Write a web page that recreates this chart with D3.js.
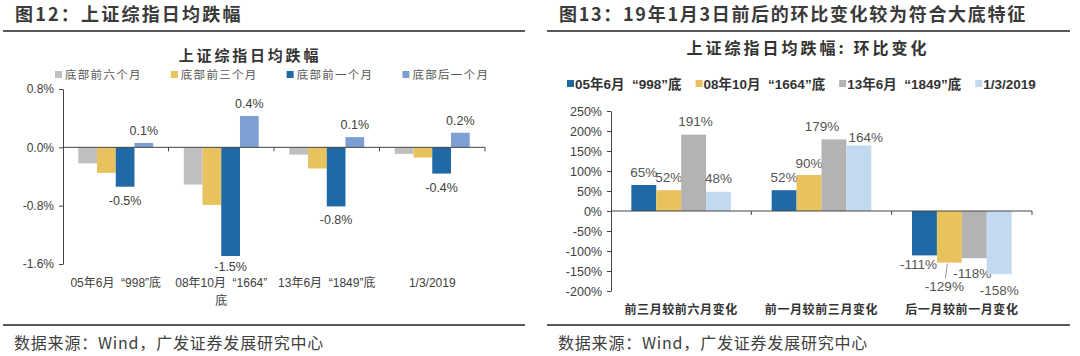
<!DOCTYPE html>
<html><head><meta charset="utf-8">
<script src="https://cdn.jsdelivr.net/npm/d3@7"></script>
<style>
html,body{margin:0;padding:0;background:#fff;}
svg{display:block;}
text{white-space:pre;}
</style></head>
<body>
<svg id="chart" width="1080" height="356"></svg>
<script>
// ---------- DATA ----------
const leftCategories = ["05年6月  “998”底", "08年10月  “1664”\n底", "13年6月  “1849”底", "1/3/2019"];
const leftSeries = ["底部前六个月", "底部前三个月", "底部前一个月", "底部后一个月"];
const leftSixMonths = [-0.22, -0.51, -0.10, -0.09];
const leftThreeMonths = [-0.35, -0.79, -0.29, -0.14];
const leftOneMonth = [-0.54, -1.49, -0.81, -0.36];
const leftAfterMonth = [0.06, 0.43, 0.14, 0.20];
const leftTicks = [0.8, 0.0, -0.8, -1.6];
const leftLabelled = ["底部前一个月", "底部后一个月"];

const rightCategories = ["前三月较前六月变化", "前一月较前三月变化", "后一月较前一月变化"];
const rightSeries = ["05年6月  “998”底", "08年10月  “1664”底", "13年6月  “1849”底", "1/3/2019"];
const right998 = [65, 52, -111];
const right1664 = [52, 90, -129];
const right1849 = [191, 179, -118];
const right2019 = [48, 164, -158];
const rightTicks = [250, 200, 150, 100, 50, 0, -50, -100, -150, -200];

// ---------- STYLE ----------
const FONT = "'Liberation Sans', Arial, 'Noto Sans CJK SC', sans-serif";
const CJK = "'Noto Sans CJK SC', 'Liberation Sans', sans-serif";
const TXT = "#404040";
const leftColors = ["#bfbfbf", "#e8c25c", "#1f69a6", "#7d9fd3"];
const rightColors = ["#1f69a6", "#e8c25c", "#b3b3b3", "#c2d9ef"];
const f1 = v => d3.format(".1f")(v).replace("\u2212", "-") + "%";
const f0 = v => d3.format("d")(v).replace("\u2212", "-") + "%";

const svg = d3.select("#chart");
svg.append("rect").attr("width", 1080).attr("height", 356).attr("fill", "#fff");

// ---------- PANEL FRAMES ----------
function panelFrame(x0, x1, tx, title, spacing) {
  svg.append("text").attr("x", tx).attr("y", 21)
    .attr("font-family", CJK).attr("font-size", 18).attr("font-weight", 700)
    .attr("fill", "#3a3a3a").attr("letter-spacing", spacing).text(title);
  svg.append("line").attr("x1", x0).attr("x2", x1).attr("y1", 31).attr("y2", 31)
    .attr("stroke", "#222").attr("stroke-width", 1.6);
  svg.append("line").attr("x1", x0).attr("x2", x1).attr("y1", 325).attr("y2", 325)
    .attr("stroke", "#222").attr("stroke-width", 1.6);
  svg.append("text").attr("x", tx - 1).attr("y", 349)
    .attr("font-family", CJK).attr("font-size", 16).attr("fill", "#404040")
    .attr("letter-spacing", 0.8)
    .text("数据来源：Wind，广发证券发展研究中心");
}
panelFrame(3, 525, 15, "图12：上证综指日均跌幅", 2.2);
panelFrame(547, 1070, 559, "图13：19年1月3日前后的环比变化较为符合大底特征", 1.7);

// ---------- LEFT CHART ----------
(function () {
  const values = [leftSixMonths, leftThreeMonths, leftOneMonth, leftAfterMonth];
  const x0 = d3.scaleBand().domain(leftCategories).range([63, 485]).paddingInner(0.29).paddingOuter(0.145);
  const x1 = d3.scaleBand().domain(leftSeries).range([0, x0.bandwidth()]);
  const y = d3.scaleLinear().domain([-1.6, 0.8]).range([264, 89]);
  const color = d3.scaleOrdinal().domain(leftSeries).range(leftColors);
  const g = svg.append("g");

  svg.append("text").attr("x", 250).attr("y", 61).attr("text-anchor", "middle")
    .attr("font-family", CJK).attr("font-size", 15).attr("font-weight", 700)
    .attr("fill", "#333").attr("letter-spacing", 2.8).text("上证综指日均跌幅");

  // legend
  let lx = 55;
  leftSeries.forEach((s, i) => {
    svg.append("rect").attr("x", lx).attr("y", 71).attr("width", 7).attr("height", 7).attr("fill", leftColors[i]);
    const t = svg.append("text").attr("x", lx + 10).attr("y", 79)
      .attr("font-family", CJK).attr("font-size", 11.5)
      .attr("letter-spacing", 1.3).attr("fill", "#555").text(s);
    lx += 10 + t.node().getComputedTextLength() + 29;
  });

  // bars
  leftCategories.forEach((c, ci) => {
    leftSeries.forEach((s, si) => {
      const v = values[si][ci];
      g.append("rect").attr("x", x0(c) + x1(s)).attr("width", x1.bandwidth())
        .attr("y", y(Math.max(0, v))).attr("height", Math.abs(y(v) - y(0)))
        .attr("fill", color(s));
      if (leftLabelled.includes(s)) {
        g.append("text").attr("x", x0(c) + x1(s) + x1.bandwidth() / 2)
          .attr("y", v >= 0 ? y(v) - 12 : y(v) + (y(v) > 250 ? 11 : 14))
          .attr("dominant-baseline", "central").attr("text-anchor", "middle")
          .attr("font-family", FONT).attr("font-size", 12.5).attr("fill", TXT)
          .text(f1(v));
      }
    });
  });

  // y axis
  const ya = g.append("g").attr("transform", "translate(63,0)")
    .call(d3.axisLeft(y).tickValues(leftTicks).tickSize(4).tickSizeOuter(0).tickFormat(f1));
  ya.select(".domain").attr("stroke", "#444");
  ya.selectAll(".tick line").attr("stroke", "#444");
  ya.selectAll("text").attr("font-family", FONT).attr("font-size", 12).attr("fill", TXT).attr("dx", "-2");

  // x axis line at zero
  g.append("line").attr("x1", 63).attr("x2", 485).attr("y1", y(0)).attr("y2", y(0)).attr("stroke", "#444");
  leftCategories.forEach(c => {
    const bx = x0(c) + x0.bandwidth() + x0.step() * x0.paddingInner() / 2;
    g.append("line").attr("x1", bx).attr("x2", bx).attr("y1", y(0)).attr("y2", y(0) + 4).attr("stroke", "#444");
  });
  // category labels
  leftCategories.forEach(c => {
    const cx = x0(c) + x0.bandwidth() / 2;
    c.split("\n").forEach((line, li) => {
      g.append("text").attr("x", cx).attr("y", 283 + li * 18).attr("dominant-baseline", "central")
        .attr("text-anchor", "middle").attr("font-family", FONT).attr("font-size", 12)
        .attr("fill", TXT).text(line);
    });
  });
})();

// ---------- RIGHT CHART ----------
(function () {
  const values = [right998, right1664, right1849, right2019];
  const x0 = d3.scaleBand().domain(rightCategories).range([611, 1032]).paddingInner(0.29).paddingOuter(0.145);
  const x1 = d3.scaleBand().domain(rightSeries).range([0, x0.bandwidth()]);
  const y = d3.scaleLinear().domain([-200, 250]).range([291, 111]);
  const color = d3.scaleOrdinal().domain(rightSeries).range(rightColors);
  const g = svg.append("g");

  svg.append("text").attr("x", 808).attr("y", 54).attr("text-anchor", "middle")
    .attr("font-family", CJK).attr("font-size", 16).attr("font-weight", 700)
    .attr("fill", "#333").attr("letter-spacing", 3).text("上证综指日均跌幅: 环比变化");

  // legend
  let lx = 567;
  rightSeries.forEach((s, i) => {
    svg.append("rect").attr("x", lx).attr("y", 80).attr("width", 7).attr("height", 7).attr("fill", rightColors[i]);
    const t = svg.append("text").attr("x", lx + 8).attr("y", 89)
      .attr("font-family", FONT).attr("font-size", 13.5).attr("font-weight", 700)
      .attr("fill", "#333").text(s);
    lx += 8 + t.node().getComputedTextLength() + 14;
  });

  // label nudges (layout only): [dx, dy]
  const nudge = {
    "0-0": [0, -13], "0-1": [0, -13], "0-2": [2, -13], "0-3": [0, -13],
    "1-0": [0, -13], "1-1": [0, -12], "1-2": [-12, -13], "1-3": [7, -8],
    "2-0": [-6, 9], "2-1": [-5, 24], "2-2": [-2, 15], "2-3": [0, 16]
  };

  rightCategories.forEach((c, ci) => {
    rightSeries.forEach((s, si) => {
      const v = values[si][ci];
      const bx = x0(c) + x1(s);
      g.append("rect").attr("x", bx).attr("width", x1.bandwidth())
        .attr("y", y(Math.max(0, v))).attr("height", Math.abs(y(v) - y(0)))
        .attr("fill", color(s));
      const [dx, dy] = nudge[ci + "-" + si];
      const lxp = bx + x1.bandwidth() / 2 + dx, lyp = y(v) + dy;
      g.append("text").attr("x", lxp).attr("y", lyp)
        .attr("dominant-baseline", "central").attr("text-anchor", "middle")
        .attr("font-family", FONT).attr("font-size", 13.5).attr("fill", "#555")
        .text(f0(v));
      if (dy > 20) {
        g.append("line").attr("x1", bx + x1.bandwidth() / 2 - 2).attr("y1", y(v) + 1)
          .attr("x2", lxp + 1).attr("y2", lyp - 8).attr("stroke", "#999").attr("stroke-width", 1);
      }
    });
  });

  const ya = g.append("g").attr("transform", "translate(611,0)")
    .call(d3.axisLeft(y).tickValues(rightTicks).tickSize(4).tickSizeOuter(0).tickFormat(f0));
  ya.select(".domain").attr("stroke", "#444");
  ya.selectAll(".tick line").attr("stroke", "#444");
  ya.selectAll("text").attr("font-family", FONT).attr("font-size", 12.5).attr("fill", TXT).attr("dx", "-2");

  g.append("line").attr("x1", 611).attr("x2", 1032).attr("y1", y(0)).attr("y2", y(0)).attr("stroke", "#444");
  rightCategories.forEach(c => {
    const bx = x0(c) + x0.bandwidth() + x0.step() * x0.paddingInner() / 2;
    g.append("line").attr("x1", bx).attr("x2", bx).attr("y1", y(0)).attr("y2", y(0) + 4).attr("stroke", "#444");
  });
  rightCategories.forEach(c => {
    g.append("text").attr("x", x0(c) + x0.bandwidth() / 2).attr("y", 308)
      .attr("dominant-baseline", "central").attr("text-anchor", "middle")
      .attr("font-family", CJK).attr("font-size", 12).attr("font-weight", 700)
      .attr("letter-spacing", 0.6).attr("fill", "#333").text(c);
  });
})();
</script>
</body></html>
